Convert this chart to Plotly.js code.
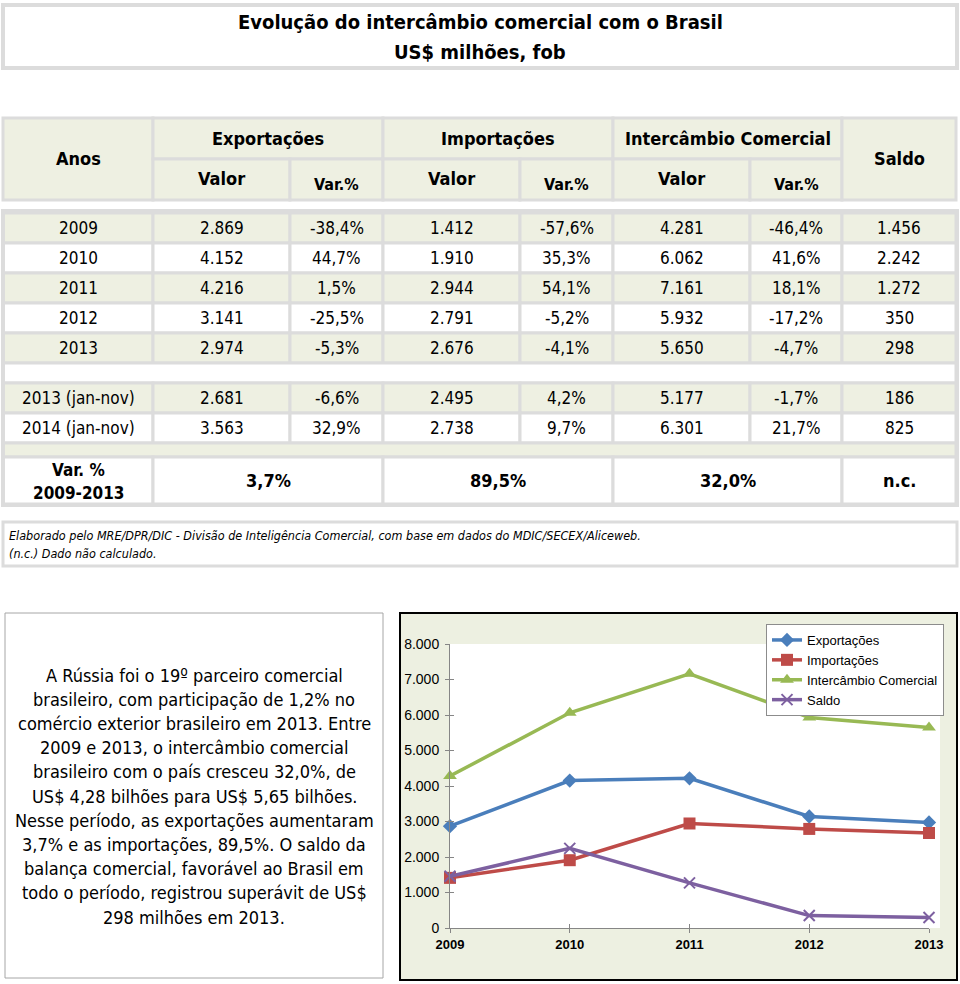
<!DOCTYPE html>
<html><head><meta charset="utf-8">
<script src="https://cdn.plot.ly/plotly-3.0.1.min.js"></script>
<style>html,body{margin:0;padding:0;background:#fff}</style>
</head><body><div id="chart" style="width:960px;height:984px"></div>
<script>
// ---- data ----
const years = ['2009', '2010', '2011', '2012', '2013'];
const exportValues = [2869, 4152, 4216, 3141, 2974];
const importValues = [1412, 1910, 2944, 2791, 2676];
const tradeValues = [4281, 6062, 7161, 5932, 5650];
const balanceValues = [1456, 2242, 1272, 350, 298];
const exportVar = [-38.4, 44.7, 1.5, -25.5, -5.3];
const importVar = [-57.6, 35.3, 54.1, -5.2, -4.1];
const tradeVar = [-46.4, 41.6, 18.1, -17.2, -4.7];
const partialPeriods = ['2013 (jan-nov)', '2014 (jan-nov)'];
const partialExport = [2681, 3563];
const partialExportVar = [-6.6, 32.9];
const partialImport = [2495, 2738];
const partialImportVar = [4.2, 9.7];
const partialTrade = [5177, 6301];
const partialTradeVar = [-1.7, 21.7];
const partialBalance = [186, 825];
const periodVar = [3.7, 89.5, 32.0];
const periodBalanceVar = 'n.c.';
const seriesNames = ['Exportações', 'Importações', 'Intercâmbio Comercial', 'Saldo'];
const groupHeaders = ['Exportações', 'Importações', 'Intercâmbio Comercial'];
const paragraph = [
  'A Rússia foi o 19º parceiro comercial',
  'brasileiro, com participação de 1,2% no',
  'comércio exterior brasileiro em 2013. Entre',
  '2009 e 2013, o intercâmbio comercial',
  'brasileiro com o país cresceu 32,0%, de',
  'US$ 4,28 bilhões para US$ 5,65 bilhões.',
  'Nesse período, as exportações aumentaram',
  '3,7% e as importações, 89,5%. O saldo da',
  'balança comercial, favorável ao Brasil em',
  'todo o período, registrou superávit de US$',
  '298 milhões em 2013.'
];
const footnotes = [
  'Elaborado pelo MRE/DPR/DIC - Divisão de Inteligência Comercial, com base em dados do MDIC/SECEX/Aliceweb.',
  '(n.c.) Dado não calculado.'
];

// ---- helpers ----
const W = 960, H = 984;
const px = x => x / W, py = y => 1 - y / H;
const TF = '"DejaVu Sans Condensed", "DejaVu Sans", sans-serif';
const CF = '"Liberation Sans", Arial, sans-serif';
const GRAY = '#dcdcdc', BEIGE = '#eef0e2';
const shapes = [], annotations = [];
const fmtN = n => String(n).replace(/\B(?=(\d{3})+(?!\d))/g, '.');
const fmtP = v => v.toFixed(1).replace('.', ',') + '%';

function rect(x0, y0, x1, y1, fill, lc, lw, layer) {
  shapes.push({type: 'rect', xref: 'paper', yref: 'paper', x0: px(x0), x1: px(x1), y0: py(y1), y1: py(y0),
    fillcolor: fill, line: {color: lc || GRAY, width: lw === undefined ? 3 : lw}, layer: layer || 'above'});
}
function txt(t, x, y, size, o) {
  o = o || {};
  annotations.push({xref: 'paper', yref: 'paper', x: px(x), y: py(y), text: t, showarrow: false,
    xanchor: o.anchor || 'center', yanchor: 'middle',
    font: {family: o.family || TF, size: size, color: '#000', weight: o.bold ? 'bold' : 'normal', style: o.italic ? 'italic' : 'normal'}});
}

// ---- title box ----
rect(3, 5, 957, 68, '#ffffff', GRAY, 4);
txt('Evolução do intercâmbio comercial com o Brasil', 480, 22, 20, {bold: true});
txt('US$ milhões, fob', 480, 52, 20, {bold: true});

// ---- table ----
const colX = [3, 153, 290, 383, 520, 613, 750, 842, 956];
const cx = i => (colX[i] + colX[i + 1]) / 2;
rect(colX[0], 118, colX[1], 200, BEIGE);
txt('Anos', cx(0), 158, 18, {bold: true});
for (let g = 0; g < 3; g++) {
  const a = 1 + 2 * g;
  rect(colX[a], 118, colX[a + 2], 159, BEIGE);
  rect(colX[a], 159, colX[a + 1], 200, BEIGE);
  rect(colX[a + 1], 159, colX[a + 2], 200, BEIGE);
  txt(groupHeaders[g], (colX[a] + colX[a + 2]) / 2, 139, 18, {bold: true});
  txt('Valor', cx(a), 178, 18, {bold: true});
  txt('Var.%', cx(a + 1), 185, 16, {bold: true});
}
rect(colX[7], 118, colX[8], 200, BEIGE);
txt('Saldo', cx(7), 158, 18, {bold: true});

function dataRow(y0, y1, fill, cells) {
  for (let i = 0; i < 8; i++) {
    rect(colX[i], y0, colX[i + 1], y1, fill);
    txt(cells[i], cx(i), (y0 + y1) / 2, 17);
  }
}
const rowTop = 213, rowH = 30;
years.forEach((yr, r) => {
  dataRow(rowTop + r * rowH, rowTop + (r + 1) * rowH, r % 2 === 0 ? BEIGE : '#ffffff',
    [yr, fmtN(exportValues[r]), fmtP(exportVar[r]), fmtN(importValues[r]), fmtP(importVar[r]),
     fmtN(tradeValues[r]), fmtP(tradeVar[r]), fmtN(balanceValues[r])]);
});
rect(colX[0], 363, colX[8], 383, '#ffffff');
partialPeriods.forEach((p, r) => {
  dataRow(383 + r * 30, 413 + r * 30, r % 2 === 0 ? BEIGE : '#ffffff',
    [p, fmtN(partialExport[r]), fmtP(partialExportVar[r]), fmtN(partialImport[r]), fmtP(partialImportVar[r]),
     fmtN(partialTrade[r]), fmtP(partialTradeVar[r]), fmtN(partialBalance[r])]);
});
rect(colX[0], 443, colX[8], 457, BEIGE);
rect(colX[0], 457, colX[1], 504, '#ffffff');
txt('Var. %', cx(0), 470, 17, {bold: true});
txt('2009-2013', cx(0), 493, 17, {bold: true});
for (let g = 0; g < 3; g++) {
  const a = 1 + 2 * g;
  rect(colX[a], 457, colX[a + 2], 504, '#ffffff');
  txt(fmtP(periodVar[g]), (colX[a] + colX[a + 2]) / 2, 481, 18, {bold: true});
}
rect(colX[7], 457, colX[8], 504, '#ffffff');
txt(periodBalanceVar, cx(7), 481, 18, {bold: true});
rect(3, 211, 957, 505, 'rgba(0,0,0,0)', GRAY, 4);

// ---- footnote ----
rect(3, 522, 957, 566, '#ffffff', GRAY, 3);
footnotes.forEach((f, i) => txt(f, 7, 535 + i * 18, 12.5, {anchor: 'left', italic: true}));

// ---- text box ----
rect(5, 613, 383, 978, '#ffffff', '#a6a6a6', 1);
paragraph.forEach((l, i) => txt(l, 194, 675 + i * 24.2, 18));

// ---- chart panel ----
rect(400, 613, 957, 980, '#edf0e1', '#000000', 2, 'below');
shapes.push({type: 'rect', xref: 'x domain', yref: 'y domain', x0: 0, x1: 1.023, y0: 0, y1: 1,
  fillcolor: '#ffffff', line: {width: 0}, layer: 'below'});

const colors = ['#4a7ebb', '#be4b48', '#98b954', '#7d60a0'];
const symbols = ['diamond', 'square', 'triangle-up', 'x-thin-open'];
const sizes = [11, 12, 12, 11];
const allSeries = [exportValues, importValues, tradeValues, balanceValues];
const traces = allSeries.map((vals, i) => ({
  type: 'scatter', mode: 'lines+markers', name: seriesNames[i], x: years, y: vals,
  line: {color: colors[i], width: 3.5},
  marker: {symbol: symbols[i], size: sizes[i], color: colors[i], line: {color: colors[i], width: i === 3 ? 2 : 0}},
  cliponaxis: false
}));
// invisible companion trace carrying the inner half of the crossing tick marks
traces.push({type: 'scatter', mode: 'lines', x: years, y: exportValues, xaxis: 'x2', yaxis: 'y2',
  opacity: 0, showlegend: false, hoverinfo: 'skip', line: {width: 0}});

const axisCommon = {showgrid: false, zeroline: false, linecolor: '#868686', linewidth: 1,
  ticklen: 4, tickcolor: '#868686', tickwidth: 1};
const xDom = [px(450), px(929)], yDom = [py(928), py(644)];
const layout = {
  width: W, height: H, margin: {l: 0, r: 0, t: 0, b: 0},
  paper_bgcolor: '#ffffff', plot_bgcolor: 'rgba(0,0,0,0)',
  separators: ',.',
  showlegend: true,
  legend: {x: px(766), y: py(624), xanchor: 'left', yanchor: 'top', bgcolor: '#ffffff',
    bordercolor: '#8c8c8c', borderwidth: 1, font: {family: CF, size: 13, color: '#000'}, tracegroupgap: 0},
  xaxis: Object.assign({}, axisCommon, {domain: xDom, type: 'category', range: [0, 4], showline: true,
    ticks: 'outside', tickfont: {family: CF, size: 13, color: '#000', weight: 'bold'}, anchor: 'y'}),
  yaxis: Object.assign({}, axisCommon, {domain: yDom, range: [0, 8000], dtick: 1000, tickformat: ',', showline: true,
    ticks: 'outside', ticklabelstandoff: 3, tickfont: {family: CF, size: 14, color: '#000'}, anchor: 'x'}),
  xaxis2: Object.assign({}, axisCommon, {domain: xDom, type: 'category', range: [0, 4], overlaying: 'x',
    ticks: 'inside', showticklabels: false, showline: false, anchor: 'y2'}),
  yaxis2: Object.assign({}, axisCommon, {domain: yDom, range: [0, 8000], dtick: 1000, overlaying: 'y',
    ticks: 'inside', showticklabels: false, showline: false, anchor: 'x2'}),
  shapes: shapes, annotations: annotations
};
Plotly.newPlot('chart', traces, layout, {displayModeBar: false, staticPlot: true});
</script></body></html>
